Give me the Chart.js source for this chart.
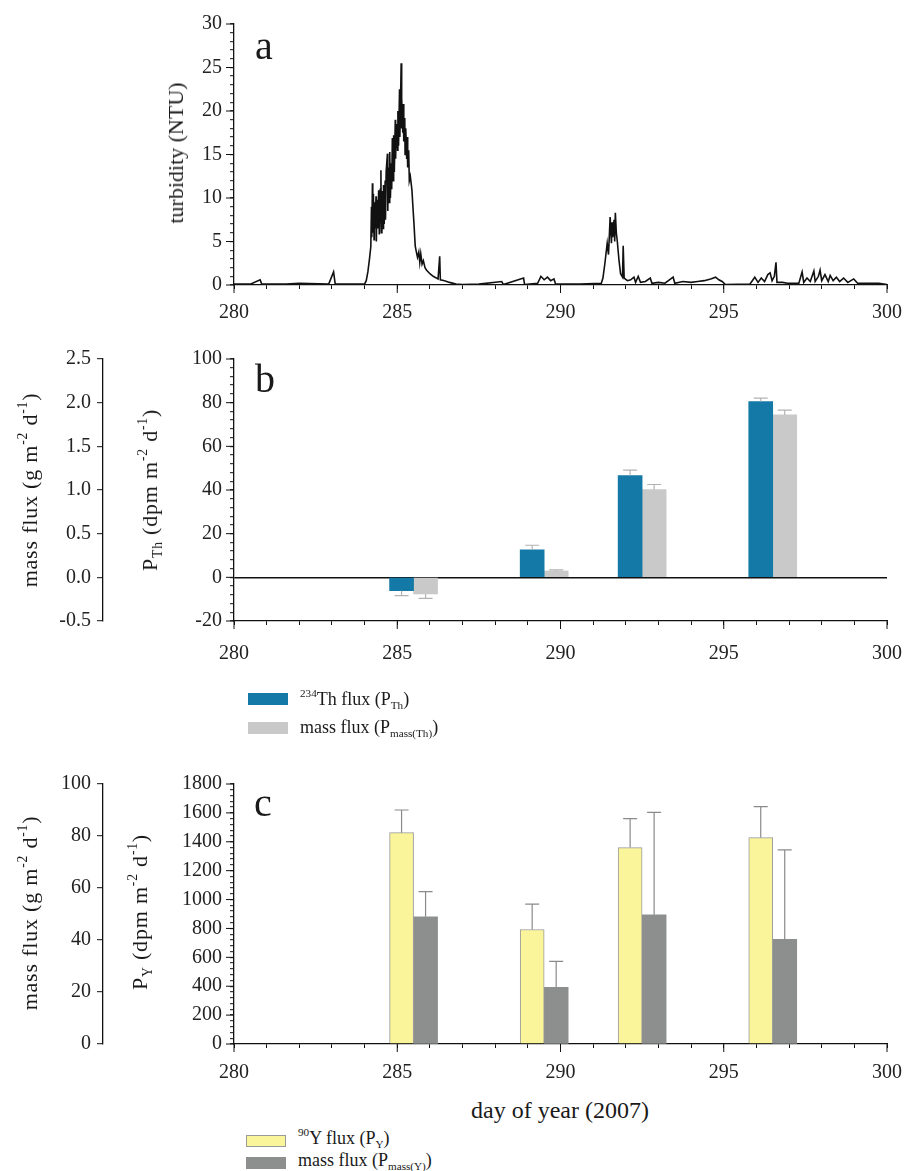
<!DOCTYPE html>
<html>
<head>
<meta charset="utf-8">
<script src="https://cdn.jsdelivr.net/npm/chart.js@4.4.1/dist/chart.umd.min.js"></script>
<style>
  body { margin: 0; background: #fff; }
  #page { position: relative; width: 904px; height: 1171px; overflow: hidden;
          font-family: "Liberation Serif", "DejaVu Serif", serif; color: #1a1a1a; }
  canvas { position: absolute; left: 0; }
  .letter { position: absolute; font-size: 40px; line-height: 40px; }
  .ytitle { position: absolute; white-space: nowrap; font-size: 22px; line-height: 22px;
            transform: translate(-50%, -50%) rotate(-90deg); }
  .ytitle.wide { letter-spacing: 0.8px; }
  .xtitle { position: absolute; white-space: nowrap; font-size: 24px; line-height: 24px;
            transform: translate(-50%, -50%); }
  .swatch { position: absolute; width: 40px; height: 12px; box-sizing: border-box; }
  .legtext { position: absolute; font-size: 18px; line-height: 20px; height: 20px; white-space: nowrap; }
  sup, sub { font-size: 62%; line-height: 0; }
  sup { vertical-align: 0.75em; }
  sub { vertical-align: -0.35em; }
</style>
</head>
<body>
<div id="page">
  <canvas id="turbChart" width="904" height="330" style="top:0"></canvas>
  <canvas id="thChart" width="904" height="340" style="top:330px"></canvas>
  <canvas id="yChart" width="904" height="330" style="top:760px"></canvas>

  <div class="letter" style="left:255px; top:26px">a</div>
  <div class="letter" style="left:255px; top:359px">b</div>
  <div class="letter" style="left:254px; top:783px">c</div>

  <div class="ytitle" style="left:176px; top:153px">turbidity (NTU)</div>
  <div class="ytitle wide" style="left:30px; top:490px">mass flux (g m<sup>-2</sup> d<sup>-1</sup>)</div>
  <div class="ytitle wide" style="left:150px; top:490px">P<sub>Th</sub> (dpm m<sup>-2</sup> d<sup>-1</sup>)</div>
  <div class="ytitle wide" style="left:30px; top:913px">mass flux (g m<sup>-2</sup> d<sup>-1</sup>)</div>
  <div class="ytitle wide" style="left:140px; top:912px">P<sub>Y</sub> (dpm m<sup>-2</sup> d<sup>-1</sup>)</div>
  <div class="xtitle" style="left:560px; top:1110px">day of year (2007)</div>

  <div class="swatch" style="left:248px; top:693px; background:#1479a6"></div>
  <div class="legtext" style="left:300px; top:689px"><sup>234</sup>Th flux (P<sub>Th</sub>)</div>
  <div class="swatch" style="left:248px; top:722px; background:#c9c9c9"></div>
  <div class="legtext" style="left:300px; top:717px">mass flux (P<sub>mass(Th)</sub>)</div>

  <div class="swatch" style="left:246px; top:1135px; background:#faf59b; border:1px solid #9a9a9a"></div>
  <div class="legtext" style="left:298px; top:1128px"><sup>90</sup>Y flux (P<sub>Y</sub>)</div>
  <div class="swatch" style="left:246px; top:1157px; background:#8d8f8f"></div>
  <div class="legtext" style="left:298px; top:1150px">mass flux (P<sub>mass(Y)</sub>)</div>
</div>

<script>
// turbidity record (day of year, NTU)
const turbDay = [
  280.0, 280.5, 280.8, 280.85, 281.6, 282.0, 282.9, 283.05, 283.1, 284.0,
  284.05, 284.1, 284.15, 284.19, 284.21, 284.22, 284.24, 284.25, 284.27, 284.29,
  284.3, 284.32, 284.35, 284.36, 284.38, 284.41, 284.43, 284.45, 284.48, 284.5,
  284.51, 284.53, 284.57, 284.58, 284.6, 284.63, 284.64, 284.66, 284.7, 284.71,
  284.73, 284.76, 284.77, 284.79, 284.82, 284.83, 284.85, 284.88, 284.89, 284.91,
  284.94, 284.95, 284.97, 285.01, 285.02, 285.04, 285.07, 285.08, 285.1, 285.12,
  285.13, 285.14, 285.17, 285.18, 285.2, 285.23, 285.24, 285.26, 285.29, 285.3,
  285.32, 285.35, 285.37, 285.4, 285.45, 285.48, 285.51, 285.55, 285.58, 285.62,
  285.66, 285.69, 285.72, 285.76, 285.8, 285.85, 285.9, 286.0, 286.1, 286.25,
  286.3, 286.32, 286.45, 286.6, 286.8, 287.0, 287.5, 288.2, 288.25, 288.87,
  288.9, 289.3, 289.4, 289.5, 289.6, 289.7, 289.8, 289.85, 290.6, 291.25,
  291.3, 291.36, 291.43, 291.47, 291.5, 291.52, 291.56, 291.58, 291.6, 291.64,
  291.66, 291.68, 291.71, 291.74, 291.79, 291.84, 291.9, 291.92, 291.95, 292.05,
  292.15, 292.25, 292.3, 292.38, 292.45, 292.6, 292.75, 292.8, 293.0, 293.2,
  293.45, 293.5, 293.75, 294.0, 294.2, 294.4, 294.6, 294.75, 294.85, 294.95,
  295.05, 295.8, 295.95, 296.05, 296.15, 296.25, 296.35, 296.42, 296.48, 296.55,
  296.6, 296.63, 296.8, 296.95, 297.3, 297.4, 297.45, 297.55, 297.65, 297.76,
  297.8, 297.9, 297.95, 298.0, 298.1, 298.2, 298.26, 298.35, 298.45, 298.55,
  298.67, 298.8, 298.98, 299.1, 299.4, 299.75, 300.0
];
const turbNTU = [
  0.1, 0.1, 0.6, 0.1, 0.1, 0.2, 0.1, 1.5, 0.1, 0.1,
  0.5, 1.5, 3.0, 4.4, 9.0, 5.5, 11.7, 6.0, 10.5, 5.2,
  9.5, 6.5, 10.2, 5.0, 9.8, 6.5, 10.9, 5.8, 11.0, 13.2,
  6.0, 10.8, 6.5, 11.5, 7.0, 12.0, 7.5, 13.0, 15.1, 8.5,
  13.5, 9.5, 15.3, 10.0, 14.0, 11.0, 16.9, 12.0, 17.2, 13.0,
  19.0, 14.5, 18.5, 15.5, 20.0, 16.0, 22.5, 17.0, 21.0, 25.5,
  18.0, 21.5, 17.5, 20.8, 16.5, 19.2, 15.0, 18.0, 14.5, 17.0,
  13.5, 15.5, 12.0, 12.5, 10.9, 9.0, 7.2, 4.5, 3.9, 3.2,
  3.8, 2.6, 3.6, 2.4, 2.8, 2.0, 1.7, 1.3, 1.0, 0.7,
  3.3, 0.6, 0.5, 0.3, 0.1, 0.05, 0.1, 0.4, 0.05, 0.8,
  0.05, 0.2, 1.0, 0.6, 0.9, 0.5, 0.7, 0.1, 0.1, 0.2,
  0.8, 2.5, 4.8, 3.5, 6.0, 7.8, 4.8, 7.2, 5.5, 7.5,
  5.0, 8.3, 6.0, 5.0, 2.9, 1.3, 0.9, 4.5, 0.8, 0.5,
  0.6, 0.9, 0.3, 1.0, 0.3, 0.4, 0.8, 0.2, 0.3, 0.2,
  0.9, 0.2, 0.4, 0.3, 0.4, 0.5, 0.7, 0.9, 0.6, 0.4,
  0.05, 0.1, 0.9, 0.3, 0.8, 0.4, 1.2, 1.4, 0.5, 1.0,
  2.6, 0.3, 0.3, 0.2, 0.2, 1.5, 0.3, 0.8, 0.4, 1.6,
  0.4, 1.0, 1.7, 0.5, 1.2, 0.4, 1.1, 0.5, 0.9, 0.4,
  0.8, 0.3, 0.7, 0.2, 0.2, 0.2, 0.05
];

// trap deployments (mid day of each sample)
const trapDay = [285.5, 289.5, 292.5, 296.5];

// 234Th flux (dpm m-2 d-1) and mass flux (g m-2 d-1)
const thFlux = [-6.1, 12.6, 46.6, 80.5];
const thFluxErr = [2.3, 2.1, 2.5, 1.6];
const massTh = [-0.19, 0.073, 1.005, 1.86];
const massThErr = [0.05, 0.012, 0.058, 0.055];

// 90Y flux (dpm m-2 d-1) and mass flux (g m-2 d-1)
const yFlux = [1463, 793, 1360, 1429];
const yFluxErr = [157, 175, 200, 214];
const massY = [48.9, 21.8, 49.7, 40.3];
const massYErr = [9.7, 10.0, 39.4, 34.4];

Chart.defaults.font.family = '"Liberation Serif", "DejaVu Serif", serif';
Chart.defaults.font.size = 20;
Chart.defaults.color = '#222';

// one-sided error bars with a cap, pointing away from zero
const errorBars = {
  id: 'errorBars',
  afterDatasetsDraw(chart) {
    const ctx = chart.ctx;
    chart.data.datasets.forEach((ds, i) => {
      if (!ds.errors) return;
      const meta = chart.getDatasetMeta(i);
      const yScale = chart.scales[meta.yAxisID];
      ctx.save();
      ctx.strokeStyle = ds.errorColor;
      ctx.lineWidth = 1.2;
      meta.data.forEach((bar, j) => {
        const v = ds.data[j].y;
        const end = v + (v < 0 ? -1 : 1) * ds.errors[j];
        const y0 = yScale.getPixelForValue(v);
        const y1 = yScale.getPixelForValue(end);
        ctx.beginPath();
        ctx.moveTo(bar.x, y0);
        ctx.lineTo(bar.x, y1);
        ctx.moveTo(bar.x - 7, y1);
        ctx.lineTo(bar.x + 7, y1);
        ctx.stroke();
      });
      ctx.restore();
    });
  }
};

// longer tick marks at the labelled values
const majorTicks = {
  id: 'majorTicks',
  afterDraw(chart, args, opts) {
    const ctx = chart.ctx;
    ctx.save();
    ctx.strokeStyle = '#111';
    ctx.lineWidth = 1;
    Object.keys(opts).forEach(id => {
      const scale = chart.scales[id];
      const every = opts[id];
      if (!scale || typeof every !== 'number') return;
      scale.ticks.forEach(t => {
        const r = t.value / every;
        if (Math.abs(r - Math.round(r)) > 1e-6) return;
        const p = scale.getPixelForValue(t.value);
        ctx.beginPath();
        if (scale.isHorizontal()) {
          ctx.moveTo(p, scale.top);
          ctx.lineTo(p, scale.top + 8);
        } else {
          ctx.moveTo(scale.right, p);
          ctx.lineTo(scale.right - 8, p);
        }
        ctx.stroke();
      });
    });
    ctx.restore();
  }
};

function pairs(xs, ys) {
  return xs.map((x, i) => ({ x: x, y: ys[i] }));
}

function dayAxis(pad, height) {
  return {
    type: 'linear',
    min: 280,
    max: 300,
    offset: false,
    border: { display: true, color: '#111', width: 1.3 },
    grid: { display: true, offset: false, drawOnChartArea: false, drawTicks: true,
            tickLength: 4, tickColor: '#111', tickWidth: 1 },
    ticks: { stepSize: 1, autoSkip: false, maxRotation: 0, padding: pad,
             callback: v => (v % 5 === 0 ? v : '') },
    afterFit: s => {
      s.height = height;
      // keep the plot edges fixed regardless of label overhang
      s.paddingLeft = 0;
      s.paddingRight = 0;
    }
  };
}

function valueAxis(opts) {
  return {
    type: 'linear',
    position: 'left',
    min: opts.min,
    max: opts.max,
    weight: opts.weight,
    border: { display: true, color: '#111', width: 1.3 },
    grid: { display: true, drawOnChartArea: !!opts.zeroLine, drawTicks: true,
            tickLength: opts.tick || 4, tickColor: '#111', tickWidth: 1,
            color: c => (opts.zeroLine && c.tick && c.tick.value === 0 ? '#111' : 'rgba(0,0,0,0)'),
            lineWidth: 1.4 },
    ticks: { stepSize: opts.step, autoSkip: false, padding: opts.tick ? 6 : 8,
             callback: opts.label },
    afterFit: s => { s.width = opts.width; }
  };
}

// a: turbidity
new Chart(document.getElementById('turbChart'), {
  type: 'line',
  data: {
    datasets: [{
      data: pairs(turbDay, turbNTU),
      borderColor: '#111',
      borderWidth: 1.6,
      pointRadius: 0,
      tension: 0
    }]
  },
  options: {
    responsive: false,
    animation: false,
    layout: { padding: { left: 0, right: 17, top: 24, bottom: 0 } },
    plugins: { legend: { display: false }, tooltip: { enabled: false },
               majorTicks: { x: 5, y: 5 } },
    scales: {
      x: dayAxis(12, 45),
      y: valueAxis({ min: 0, max: 30, step: 1, width: 234, weight: 0,
                     label: v => (v % 5 === 0 ? v : '') })
    }
  },
  plugins: [majorTicks]
});

// b: 234Th flux and mass flux
new Chart(document.getElementById('thChart'), {
  type: 'bar',
  data: {
    datasets: [
      {
        data: pairs(trapDay, thFlux),
        yAxisID: 'y',
        backgroundColor: '#1479a6',
        errors: thFluxErr,
        errorColor: '#b3b3b3'
      },
      {
        data: pairs(trapDay, massTh),
        yAxisID: 'y2',
        backgroundColor: '#c9c9c9',
        errors: massThErr,
        errorColor: '#b3b3b3'
      }
    ]
  },
  options: {
    responsive: false,
    animation: false,
    barThickness: 24,
    layout: { padding: { left: 0, right: 17, top: 29, bottom: 0 } },
    plugins: { legend: { display: false }, tooltip: { enabled: false },
               majorTicks: { x: 5, y: 20 } },
    scales: {
      x: dayAxis(17, 49),
      y: valueAxis({ min: -20, max: 100, step: 4, width: 131, weight: 0, zeroLine: true,
                     label: v => (Math.abs(v % 20) < 1e-6 ? v : '') }),
      y2: valueAxis({ min: -0.5, max: 2.5, step: 0.5, width: 103, weight: 1, tick: 6,
                      label: v => v.toFixed(1) })
    }
  },
  plugins: [errorBars, majorTicks]
});

// c: 90Y flux and mass flux
new Chart(document.getElementById('yChart'), {
  type: 'bar',
  data: {
    datasets: [
      {
        data: pairs(trapDay, yFlux),
        yAxisID: 'y',
        backgroundColor: '#faf59b',
        borderColor: '#9a9a9a',
        borderWidth: 1,
        errors: yFluxErr,
        errorColor: '#8a8a8a'
      },
      {
        data: pairs(trapDay, massY),
        yAxisID: 'y2',
        backgroundColor: '#8d8f8f',
        errors: massYErr,
        errorColor: '#8a8a8a'
      }
    ]
  },
  options: {
    responsive: false,
    animation: false,
    barThickness: 24,
    layout: { padding: { left: 0, right: 17, top: 24, bottom: 0 } },
    plugins: { legend: { display: false }, tooltip: { enabled: false },
               majorTicks: { x: 5, y: 200 } },
    scales: {
      x: dayAxis(13, 46),
      y: valueAxis({ min: 0, max: 1800, step: 40, width: 131, weight: 0,
                     label: v => (v % 200 === 0 ? v : '') }),
      y2: valueAxis({ min: 0, max: 100, step: 20, width: 103, weight: 1, tick: 6,
                      label: v => v })
    }
  },
  plugins: [errorBars, majorTicks]
});
</script>
</body>
</html>
